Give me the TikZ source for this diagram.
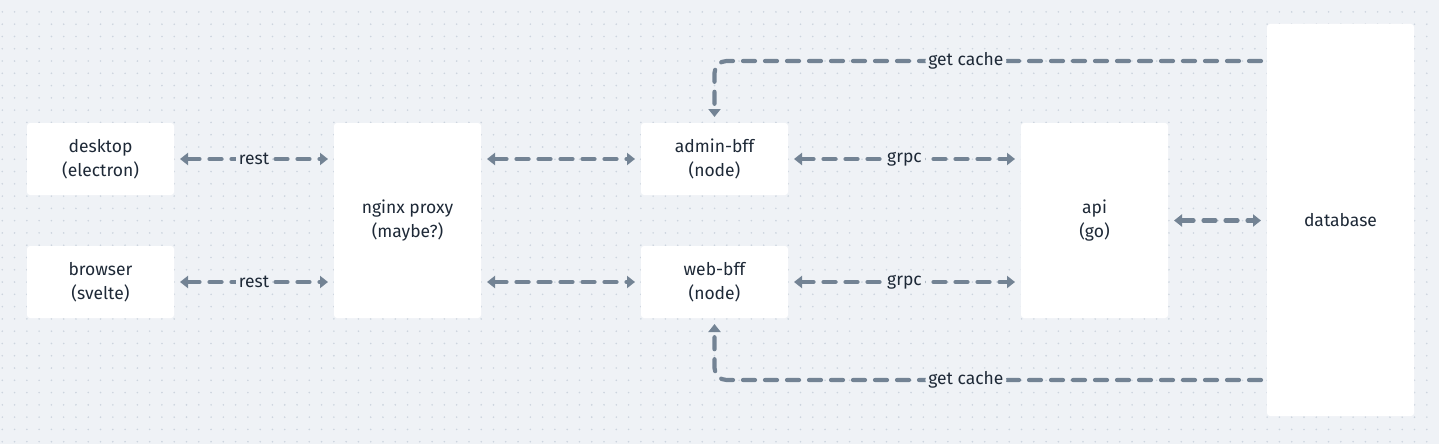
\documentclass[tikz,border=0pt]{standalone}
\usepackage{fontspec}
\setmainfont{Fira Sans}
\usetikzlibrary{arrows.meta}

\definecolor{bgcol}{HTML}{EFF2F6}
\definecolor{dotcol}{HTML}{CCD4DE}
\definecolor{linecol}{HTML}{738394}
\definecolor{textcol}{HTML}{1E2937}

\begin{document}
\begin{tikzpicture}[x=1pt, y=-1pt,
        box/.style={fill=white, rounded corners=3pt, minimum width=147pt, minimum height=72pt,
            outer sep=6pt, text=textcol, align=center, font=\fontsize{17.5}{24}\selectfont},
        tallbox/.style={box, minimum height=195pt},
        flow/.style={draw=linecol, line width=4.2pt, dash pattern=on 12pt off 10pt, line cap=round,
            {Triangle[length=8pt,width=12pt]}-{Triangle[length=8pt,width=12pt]}},
        oneway/.style={flow, -{Triangle[length=8pt,width=12pt]}, rounded corners=12pt},
        lbl/.style={fill=bgcol, text=textcol, inner sep=3pt, font=\fontsize{17.5}{24}\selectfont}]
        % background and dot grid
        \fill[bgcol] (0,0) rectangle (1439,444);
        \useasboundingbox (0,0) rectangle (1439,444);
        \foreach \i in {0,...,116}
            \foreach \j in {0,...,35}
                \fill[dotcol] (2.3+12.28*\i, 11.9+12.28*\j) circle[radius=0.9pt];

        % clients
        \node[box] (desktop) at (100.5,159) {desktop\\(electron)};
        \node[box] (browser) at (100.5,282) {browser\\(svelte)};
        \node[tallbox] (nginx) at (407.5,220.5) {nginx proxy\\(maybe?)};

        % bff layer
        \node[box] (admin) at (714.5,159) {admin-bff\\(node)};
        \node[box] (web) at (714.5,282) {web-bff\\(node)};

        % backend
        \node[tallbox] (api) at (1094.5,220.5) {api\\(go)};
        \node[box, minimum height=392pt] (db) at (1340.5,220) {database};

        \coordinate (topcache) at (0,61);
        \coordinate (botcache) at (0,380);

        \draw[flow] (desktop) -- node[lbl] {rest} (nginx.west |- desktop);
        \draw[flow] (browser) -- node[lbl] {rest} (nginx.west |- browser);
        \draw[flow] (nginx.east |- admin) -- (admin);
        \draw[flow] (nginx.east |- web) -- (web);
        \draw[flow] (admin) -- node[lbl] {grpc} (api.west |- admin);
        \draw[flow] (web) -- node[lbl] {grpc} (api.west |- web);
        \draw[flow] (api) -- (db.west |- api);

        \draw[oneway] (db.west |- topcache) -| node[lbl, pos=0.27] {get cache} (admin.north);
        \draw[oneway] (db.west |- botcache) -| node[lbl, pos=0.27] {get cache} (web.south);
    \end{tikzpicture}
\end{document}
